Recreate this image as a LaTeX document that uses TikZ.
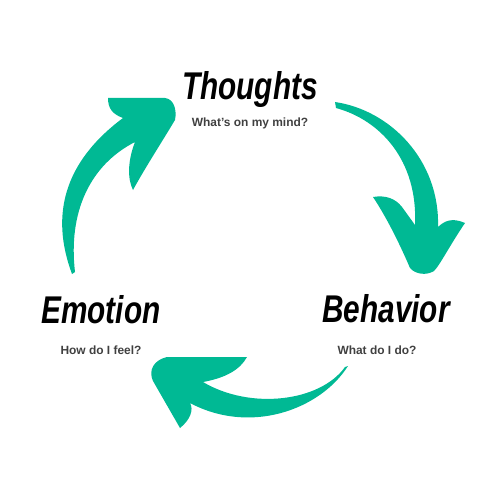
\documentclass[tikz,border=0pt]{standalone}
\usepackage{fontspec}
\setmainfont{Liberation Sans}
\newfontfamily\brushfont{Liberation Sans}
\usepackage{graphicx}
\usepackage{xcolor}
\usepackage{tikz}
\usetikzlibrary{positioning}

\definecolor{cycleteal}{RGB}{0,185,148}
\definecolor{askgray}{RGB}{64,64,64}

\begin{document}
\begin{tikzpicture}[
    x=0.02cm, y=-0.02cm,
    stage/.style={
        anchor=base,
        inner sep=0pt,
        font=\brushfont\bfseries\itshape\fontsize{22}{22}\selectfont
    },
    question/.style={
        anchor=base,
        inner sep=0pt,
        text=askgray,
        font=\bfseries\fontsize{6.8}{8}\selectfont
    },
    arrowbody/.style={fill=cycleteal, draw=none}
]

\useasboundingbox (0,0) rectangle (500,500);

% labels
\node[stage]    (thoughts)  at (250,100) {\scalebox{0.77}[1]{Thoughts}};
\node[question] (thoughtsq) at (250,127) {What’s on my mind?};

\node[stage]    (emotion)   at (101,323) {\scalebox{0.77}[1]{Emotion}};
\node[question] (emotionq)  at (101,354) {How do I feel?};

\node[stage]    (behavior)  at (386,322) {\scalebox{0.77}[1]{Behavior}};
\node[question] (behaviorq) at (377,354) {What do I do?};

% emotion -> thoughts
\fill[arrowbody] (72,274) .. controls (50,215) and (64,162) .. (123,118)
    .. controls (112,114) and (108,108) .. (108,98)
    -- (165,98) .. controls (174,99) and (177,110) .. (175,120)
    .. controls (160,145) and (145,168) .. (133,190)
    .. controls (127,178) and (128,160) .. (135,142)
    .. controls (90,165) and (68,212) .. (75,272) -- cycle;

% thoughts -> behavior
\fill[arrowbody] (335,102) .. controls (390,110) and (440,160) .. (438,227)
    .. controls (448,217) and (458,220) .. (465,223)
    .. controls (450,245) and (440,265) .. (434,271)
    .. controls (426,276) and (415,274) .. (410,268)
    .. controls (398,240) and (385,215) .. (373,197)
    .. controls (385,195) and (395,198) .. (402,207) -- (415,225)
    .. controls (418,160) and (380,120) .. (336,108) -- cycle;

% behavior -> emotion
\fill[arrowbody] (348,366) .. controls (320,410) and (250,435) .. (190,403)
    .. controls (194,410) and (190,420) .. (180,428)
    -- (153,381) .. controls (148,370) and (154,360) .. (167,357)
    -- (247,357) .. controls (240,370) and (225,378) .. (203,382)
    .. controls (250,410) and (320,402) .. (345,367) -- cycle;

\end{tikzpicture}
\end{document}
